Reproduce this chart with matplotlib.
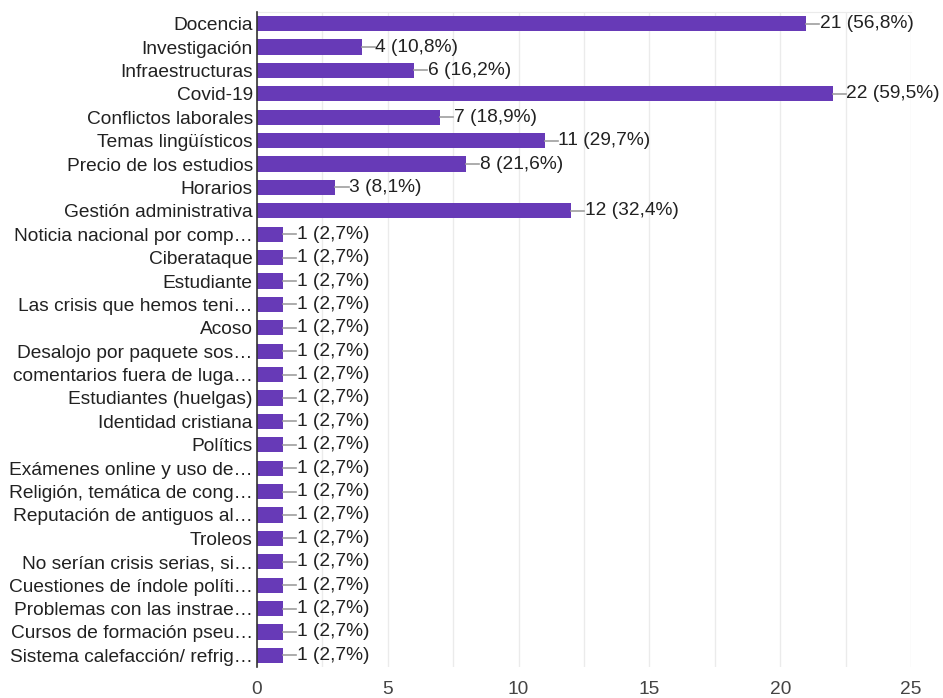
import matplotlib.pyplot as plt
import numpy as np

plt.rcParams['font.family'] = ['Liberation Sans', 'DejaVu Sans']

categories = [
    "Docencia", "Investigación", "Infraestructuras", "Covid-19",
    "Conflictos laborales", "Temas lingüísticos", "Precio de los estudios",
    "Horarios", "Gestión administrativa", "Noticia nacional por comp…",
    "Ciberataque", "Estudiante", "Las crisis que hemos teni…", "Acoso",
    "Desalojo por paquete sos…", "comentarios fuera de luga…",
    "Estudiantes (huelgas)", "Identidad cristiana", "Polítics",
    "Exámenes online y uso de…", "Religión, temática de cong…",
    "Reputación de antiguos al…", "Troleos", "No serían crisis serias, si…",
    "Cuestiones de índole políti…", "Problemas con las instrae…",
    "Cursos de formación pseu…", "Sistema calefacción/ refrig…",
]
counts = [21, 4, 6, 22, 7, 11, 8, 3, 12] + [1] * 19
percents = ["56,8", "10,8", "16,2", "59,5", "18,9", "29,7", "21,6", "8,1", "32,4"] + ["2,7"] * 19

bar_color = "#673ab7"
text_color = "#212121"
fs = 13.8

fig = plt.figure(figsize=(9.43, 6.98), dpi=100)
ax = fig.add_axes([257 / 943, 31 / 698, 654 / 943, 655 / 698])

y = np.arange(len(categories))
ax.barh(y, counts, height=0.65, color=bar_color, zorder=3)

# leader line + value label at the end of each bar
for yi, c, p in zip(y, counts, percents):
    ax.plot([c, c + 0.5], [yi, yi], color="#9e9e9e", lw=1.2, zorder=3)
    ax.text(c + 0.52, yi, f"{c} ({p}%)", va="center", ha="left",
            fontsize=fs, color=text_color)

ax.set_xlim(0, 25)
ax.set_ylim(len(categories) - 0.5, -0.5)
ax.set_yticks(y)
ax.set_yticklabels(categories, fontsize=fs, color=text_color)
ax.set_xticks([0, 5, 10, 15, 20, 25])
ax.set_xticks(np.arange(0, 25.1, 2.5), minor=True)
ax.tick_params(axis="x", which="both", length=0, labelsize=fs,
               labelcolor="#444444", pad=10)
ax.tick_params(axis="y", length=0, pad=3)
ax.grid(axis="x", which="both", color="#ebebeb", lw=1, zorder=0)

ax.spines["left"].set_color("#333333")
ax.spines["left"].set_linewidth(1.2)
ax.spines["left"].set_zorder(4)
ax.spines["top"].set_color("#ebebeb")
ax.spines["right"].set_visible(False)
ax.spines["bottom"].set_visible(False)

fig.savefig("out.png", dpi=100)
